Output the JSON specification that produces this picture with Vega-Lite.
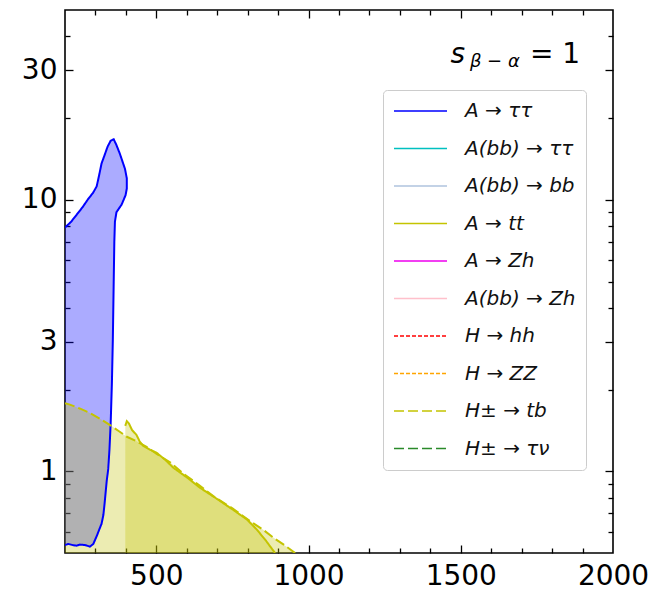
{
  "$schema": "https://vega.github.io/schema/vega-lite/v6.json",
  "width": 548,
  "height": 543,
  "autosize": "none",
  "padding": {"left": 65, "top": 10, "right": 38, "bottom": 38},
  "background": "#ffffff",
  "config": {
    "font": "DejaVu Sans",
    "view": {"stroke": "#000000", "strokeWidth": 1.6},
    "axis": {
      "grid": false,
      "domain": false,
      "tickColor": "#000000",
      "tickWidth": 1.3,
      "labelColor": "#000000",
      "labelFont": "DejaVu Sans",
      "labelFontSize": 28
    }
  },
  "datasets": {
    "curves": [
      {"decay": "A→ττ", "x": 200, "y": 7.9},
      {"decay": "A→ττ", "x": 220, "y": 8.3},
      {"decay": "A→ττ", "x": 238, "y": 8.8},
      {"decay": "A→ττ", "x": 258, "y": 9.4},
      {"decay": "A→ττ", "x": 277, "y": 10.1},
      {"decay": "A→ττ", "x": 292, "y": 10.6},
      {"decay": "A→ττ", "x": 304, "y": 11.2},
      {"decay": "A→ττ", "x": 312, "y": 12.3},
      {"decay": "A→ττ", "x": 320, "y": 13.6},
      {"decay": "A→ττ", "x": 330, "y": 14.6},
      {"decay": "A→ττ", "x": 340, "y": 15.7},
      {"decay": "A→ττ", "x": 350, "y": 16.5},
      {"decay": "A→ττ", "x": 360, "y": 16.7},
      {"decay": "A→ττ", "x": 368, "y": 16.0},
      {"decay": "A→ττ", "x": 380, "y": 14.8},
      {"decay": "A→ττ", "x": 397, "y": 13.0},
      {"decay": "A→ττ", "x": 403, "y": 12.0},
      {"decay": "A→ττ", "x": 403, "y": 11.0},
      {"decay": "A→ττ", "x": 399, "y": 10.4},
      {"decay": "A→ττ", "x": 386, "y": 9.6},
      {"decay": "A→ττ", "x": 369, "y": 9.0},
      {"decay": "A→ττ", "x": 364, "y": 8.3},
      {"decay": "A→ττ", "x": 362, "y": 7.0},
      {"decay": "A→ττ", "x": 360, "y": 5.0},
      {"decay": "A→ττ", "x": 357, "y": 3.0},
      {"decay": "A→ττ", "x": 354, "y": 2.1},
      {"decay": "A→ττ", "x": 350, "y": 1.5},
      {"decay": "A→ττ", "x": 346, "y": 1.2},
      {"decay": "A→ττ", "x": 342, "y": 1.02},
      {"decay": "A→ττ", "x": 337, "y": 0.92},
      {"decay": "A→ττ", "x": 330, "y": 0.76},
      {"decay": "A→ττ", "x": 326, "y": 0.69},
      {"decay": "A→ττ", "x": 320, "y": 0.64},
      {"decay": "A→ττ", "x": 315, "y": 0.62},
      {"decay": "A→ττ", "x": 305, "y": 0.58},
      {"decay": "A→ττ", "x": 293, "y": 0.54},
      {"decay": "A→ττ", "x": 282, "y": 0.528},
      {"decay": "A→ττ", "x": 265, "y": 0.535},
      {"decay": "A→ττ", "x": 249, "y": 0.537},
      {"decay": "A→ττ", "x": 238, "y": 0.532},
      {"decay": "A→ττ", "x": 227, "y": 0.534},
      {"decay": "A→ττ", "x": 211, "y": 0.54},
      {"decay": "A→ττ", "x": 200, "y": 0.535},

      {"decay": "A→tt", "x": 398, "y": 1.47},
      {"decay": "A→tt", "x": 403, "y": 1.53},
      {"decay": "A→tt", "x": 410, "y": 1.5},
      {"decay": "A→tt", "x": 420, "y": 1.42},
      {"decay": "A→tt", "x": 435, "y": 1.36},
      {"decay": "A→tt", "x": 445, "y": 1.29},
      {"decay": "A→tt", "x": 457, "y": 1.24},
      {"decay": "A→tt", "x": 480, "y": 1.2},
      {"decay": "A→tt", "x": 501, "y": 1.17},
      {"decay": "A→tt", "x": 530, "y": 1.1},
      {"decay": "A→tt", "x": 556, "y": 1.03},
      {"decay": "A→tt", "x": 600, "y": 0.95},
      {"decay": "A→tt", "x": 643, "y": 0.87},
      {"decay": "A→tt", "x": 700, "y": 0.79},
      {"decay": "A→tt", "x": 753, "y": 0.72},
      {"decay": "A→tt", "x": 797, "y": 0.665},
      {"decay": "A→tt", "x": 830, "y": 0.61},
      {"decay": "A→tt", "x": 860, "y": 0.555},
      {"decay": "A→tt", "x": 890, "y": 0.5},

      {"decay": "H±→tb", "x": 200, "y": 1.78},
      {"decay": "H±→tb", "x": 216, "y": 1.76},
      {"decay": "H±→tb", "x": 250, "y": 1.7},
      {"decay": "H±→tb", "x": 282, "y": 1.64},
      {"decay": "H±→tb", "x": 315, "y": 1.56},
      {"decay": "H±→tb", "x": 348, "y": 1.48},
      {"decay": "H±→tb", "x": 375, "y": 1.41},
      {"decay": "H±→tb", "x": 403, "y": 1.34},
      {"decay": "H±→tb", "x": 435, "y": 1.29},
      {"decay": "H±→tb", "x": 468, "y": 1.23},
      {"decay": "H±→tb", "x": 500, "y": 1.16},
      {"decay": "H±→tb", "x": 545, "y": 1.08},
      {"decay": "H±→tb", "x": 589, "y": 0.98},
      {"decay": "H±→tb", "x": 640, "y": 0.89},
      {"decay": "H±→tb", "x": 687, "y": 0.81},
      {"decay": "H±→tb", "x": 750, "y": 0.73},
      {"decay": "H±→tb", "x": 808, "y": 0.655},
      {"decay": "H±→tb", "x": 850, "y": 0.61},
      {"decay": "H±→tb", "x": 884, "y": 0.57},
      {"decay": "H±→tb", "x": 920, "y": 0.535},
      {"decay": "H±→tb", "x": 956, "y": 0.5}
    ]
  },
  "layer": [
    {
      "data": {"name": "curves"},
      "transform": [{"filter": "datum.decay === 'A→ττ'"}],
      "mark": {"type": "line", "fill": "#0000ff", "fillOpacity": 0.33, "strokeOpacity": 0, "clip": true},
      "encoding": {
        "x": {
          "field": "x", "type": "quantitative",
          "scale": {"domain": [200, 2000], "nice": false, "zero": false},
          "axis": {"orient": "bottom", "values": [500, 1000, 1500, 2000], "format": "d", "ticks": false, "labelPadding": 9, "labelFlush": false, "title": null}
        },
        "y": {
          "field": "y", "type": "quantitative",
          "scale": {"type": "log", "domain": [0.5, 50], "nice": false},
          "axis": {"orient": "left", "values": [1, 3, 10, 30], "format": "~g", "ticks": false, "labelPadding": 8, "labelFlush": false, "title": null}
        },
        "order": {"value": null}
      }
    },
    {
      "data": {"name": "curves"},
      "transform": [{"filter": "datum.decay === 'H±→tb'"}],
      "mark": {"type": "area", "color": "#bfbf00", "opacity": 0.3, "clip": true},
      "encoding": {
        "x": {
          "field": "x", "type": "quantitative",
          "axis": {"orient": "bottom", "values": [500, 1000, 1500], "labels": false, "tickSize": -8, "title": null}
        },
        "y": {
          "field": "y", "type": "quantitative",
          "axis": {"orient": "left", "values": [1, 3, 10, 30], "labels": false, "tickSize": -8, "title": null}
        },
        "y2": {"datum": 0.5}
      }
    },
    {
      "data": {"name": "curves"},
      "transform": [{"filter": "datum.decay === 'A→tt'"}],
      "mark": {"type": "area", "color": "#bfbf00", "opacity": 0.3, "clip": true},
      "encoding": {
        "x": {
          "field": "x", "type": "quantitative",
          "axis": {"orient": "top", "values": [500, 1000, 1500], "labels": false, "tickSize": -8, "title": null}
        },
        "y": {
          "field": "y", "type": "quantitative",
          "axis": {"orient": "right", "values": [1, 3, 10, 30], "labels": false, "tickSize": -8, "title": null}
        },
        "y2": {"datum": 0.5}
      }
    },
    {
      "data": {"name": "curves"},
      "mark": {"type": "line", "strokeWidth": 2, "clip": true},
      "encoding": {
        "x": {
          "field": "x", "type": "quantitative",
          "axis": {"orient": "bottom", "values": [300, 400, 600, 700, 800, 900, 1100, 1200, 1300, 1400, 1600, 1700, 1800, 1900], "labels": false, "tickSize": -5, "title": null}
        },
        "y": {
          "field": "y", "type": "quantitative",
          "axis": {"orient": "left", "values": [0.6, 0.7, 0.8, 0.9, 2, 4, 5, 6, 7, 8, 9, 20, 40], "labels": false, "tickSize": -5, "title": null}
        },
        "color": {
          "field": "decay", "type": "nominal",
          "scale": {
            "domain": ["A→ττ", "A(bb)→ττ", "A(bb)→bb", "A→tt", "A→Zh", "A(bb)→Zh", "H→hh", "H→ZZ", "H±→tb", "H±→τν"],
            "range": ["#0000ff", "#00c0c0", "#b0c4de", "#c4c400", "#ee00ee", "#ffc0cb", "#ff0000", "#ffa500", "#c4c400", "#2a8a2a"]
          },
          "legend": {
            "title": null, "orient": "none", "legendX": 318, "legendY": 80,
            "symbolType": "stroke", "symbolSize": 2809, "symbolStrokeWidth": 1.6,
            "clipHeight": 22, "rowPadding": 15.5,
            "labelFont": "DejaVu Sans", "labelFontSize": 20, "labelFontStyle": "italic", "labelColor": "#111111",
            "labelOffset": 17,
            "labelExpr": "replace(datum.label, '→', ' → ') + '\u2002\u2009'",
            "padding": 10, "fillColor": "#ffffff", "strokeColor": "#cccccc", "cornerRadius": 4
          }
        },
        "strokeDash": {
          "field": "decay", "type": "nominal",
          "scale": {
            "domain": ["A→ττ", "A(bb)→ττ", "A(bb)→bb", "A→tt", "A→Zh", "A(bb)→Zh", "H→hh", "H→ZZ", "H±→tb", "H±→τν"],
            "range": [[1, 0], [1, 0], [1, 0], [1, 0], [1, 0], [1, 0], [4, 2], [4, 2], [10, 4], [10, 4]]
          },
          "legend": {
            "title": null, "orient": "none", "legendX": 318, "legendY": 80,
            "symbolType": "stroke", "symbolSize": 2809, "symbolStrokeWidth": 1.6,
            "clipHeight": 22, "rowPadding": 15.5,
            "labelFont": "DejaVu Sans", "labelFontSize": 20, "labelFontStyle": "italic", "labelColor": "#111111",
            "labelOffset": 17,
            "labelExpr": "replace(datum.label, '→', ' → ') + '\u2002\u2009'",
            "padding": 10, "fillColor": "#ffffff", "strokeColor": "#cccccc", "cornerRadius": 4
          }
        },
        "order": {"value": null}
      }
    },
    {
      "data": {"name": "curves"},
      "mark": {"type": "point", "opacity": 0},
      "encoding": {
        "x": {
          "field": "x", "type": "quantitative",
          "axis": {"orient": "top", "values": [300, 400, 600, 700, 800, 900, 1100, 1200, 1300, 1400, 1600, 1700, 1800, 1900], "labels": false, "tickSize": -5, "title": null}
        },
        "y": {
          "field": "y", "type": "quantitative",
          "axis": {"orient": "right", "values": [0.6, 0.7, 0.8, 0.9, 2, 4, 5, 6, 7, 8, 9, 20, 40], "labels": false, "tickSize": -5, "title": null}
        }
      }
    },
    {
      "data": {"values": [{}]},
      "mark": {"type": "text", "text": "s", "font": "DejaVu Sans", "fontStyle": "italic", "fontSize": 28, "align": "left", "baseline": "alphabetic", "color": "#000000"},
      "encoding": {
        "x": {"datum": 1466, "type": "quantitative", "axis": null},
        "y": {"datum": 31.8, "type": "quantitative", "axis": null}
      }
    },
    {
      "data": {"values": [{}]},
      "mark": {"type": "text", "text": "β − α", "font": "DejaVu Sans", "fontStyle": "italic", "fontSize": 18, "align": "left", "baseline": "alphabetic", "color": "#000000"},
      "encoding": {
        "x": {"datum": 1530, "type": "quantitative", "axis": null},
        "y": {"datum": 30.8, "type": "quantitative", "axis": null}
      }
    },
    {
      "data": {"values": [{}]},
      "mark": {"type": "text", "text": "= 1", "font": "DejaVu Sans", "fontSize": 28, "align": "right", "baseline": "alphabetic", "color": "#000000"},
      "encoding": {
        "x": {"datum": 1892, "type": "quantitative", "axis": null},
        "y": {"datum": 31.8, "type": "quantitative", "axis": null}
      }
    }
  ],
  "resolve": {"axis": {"x": "independent", "y": "independent"}}
}
